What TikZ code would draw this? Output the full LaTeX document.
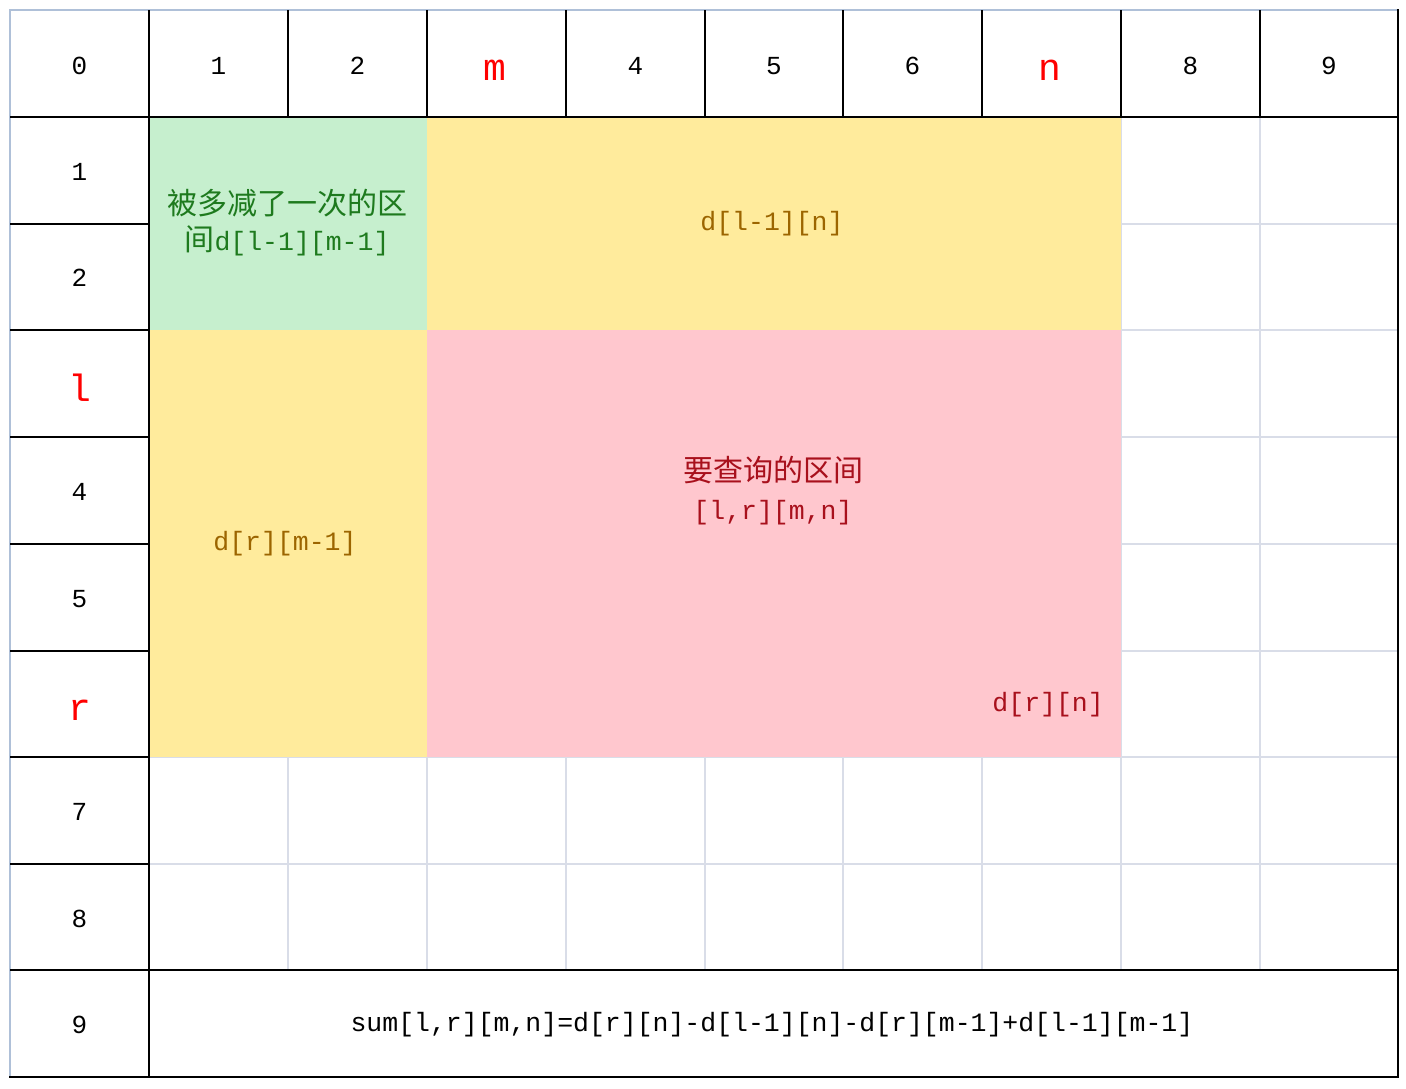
\documentclass[tikz,border=0pt]{standalone}
\usepackage{fontspec}
\setmainfont{Liberation Mono}
\newfontfamily\cjk{Noto Sans CJK SC}
\definecolor{gridgray}{HTML}{D9DDE8}
\definecolor{edgeblue}{HTML}{AFC0D8}
\definecolor{greenfill}{HTML}{C6EFCE}
\definecolor{greentext}{HTML}{1E7A1E}
\definecolor{yellowfill}{HTML}{FFEB9C}
\definecolor{yellowtext}{HTML}{9C6500}
\definecolor{pinkfill}{HTML}{FFC7CE}
\definecolor{pinktext}{HTML}{A8101C}
\tikzset{
  gridline/.style={draw=gridgray,line width=2pt},
  blackline/.style={draw=black,line width=2pt},
  edgeline/.style={draw=edgeblue,line width=2pt},
  lbl/.style={inner sep=0pt,font=\fontsize{26}{32}\selectfont},
  redlbl/.style={inner sep=0pt,text=red,font=\fontsize{38}{40}\selectfont},
  areatext/.style={inner sep=0pt,align=center,font=\fontsize{26.5}{36}\selectfont}
}
\begin{document}
\begin{tikzpicture}[x=1pt,y=-1pt]
\useasboundingbox (0,0) rectangle (1406,1088);
\fill[white] (0,0) rectangle (1406,1088);
% light grid in data area
\foreach \x in {288,427,566,705,843,982,1121,1260}
  \draw[gridline] (\x,117) -- (\x,970);
\foreach \y in {224,330,437,544,651,757,864}
  \draw[gridline] (149,\y) -- (1398,\y);
% coloured regions
\fill[greenfill] (149,117) rectangle (427,330);
\fill[yellowfill] (427,117) rectangle (1121,330);
\fill[yellowfill] (149,330) rectangle (427,757);
\fill[pinkfill] (427,330) rectangle (1121,757);
% outer light edges
\draw[edgeline] (10,1077) -- (10,10) -- (1398,10);
% header row lines
\foreach \x in {149,288,427,566,705,843,982,1121,1260}
  \draw[blackline] (\x,10) -- (\x,117);
\draw[blackline] (10,117) -- (1398,117);
% column 0 lines
\foreach \y in {224,330,437,544,651,757,864}
  \draw[blackline] (10,\y) -- (149,\y);
\draw[blackline] (149,10) -- (149,1077);
% bottom row and right edge
\draw[blackline] (10,970) -- (1398,970);
\draw[blackline] (9,1077) -- (1398,1077) -- (1398,9);
% header labels
\node[lbl] (h0) at (79.5,66) {0};
\node[lbl] (h1) at (218.5,66) {1};
\node[lbl] (h2) at (357.5,66) {2};
\node[redlbl] (hm) at (495,70) {m};
\node[lbl] (h4) at (635.5,66) {4};
\node[lbl] (h5) at (774,66) {5};
\node[lbl] (h6) at (912.5,66) {6};
\node[redlbl] (hn) at (1050,70) {n};
\node[lbl] (h8) at (1190.5,66) {8};
\node[lbl] (h9) at (1329,66) {9};
% row labels
\node[lbl] (r1) at (79.5,172) {1};
\node[lbl] (r2) at (79.5,278) {2};
\node[redlbl] (rl) at (79.5,388) {l};
\node[lbl] (r4) at (79.5,492) {4};
\node[lbl] (r5) at (79.5,599) {5};
\node[redlbl] (rr) at (79.5,710) {r};
\node[lbl] (r7) at (79.5,812) {7};
\node[lbl] (r8) at (79.5,919) {8};
\node[lbl] (r9) at (79.5,1025) {9};
% area texts
\node[areatext,text=greentext] (green) at (287,223)
  {{\cjk\fontsize{30}{36}\selectfont 被多减了一次的区}\\{\cjk\fontsize{30}{36}\selectfont 间}d[l-1][m-1]};
\node[areatext,text=yellowtext] (ytop) at (772,224) {d[l-1][n]};
\node[areatext,text=yellowtext] (yleft) at (285,544) {d[r][m-1]};
\node[areatext,text=pinktext] (query) at (773,491)
  {{\cjk\fontsize{30}{38}\selectfont 要查询的区间}\\[2pt][l,r][m,n]};
\node[areatext,text=pinktext,anchor=east] (drn) at (1104,705) {d[r][n]};
\node[areatext] (formula) at (772,1025)
  {sum[l,r][m,n]=d[r][n]-d[l-1][n]-d[r][m-1]+d[l-1][m-1]};
\end{tikzpicture}
\end{document}
